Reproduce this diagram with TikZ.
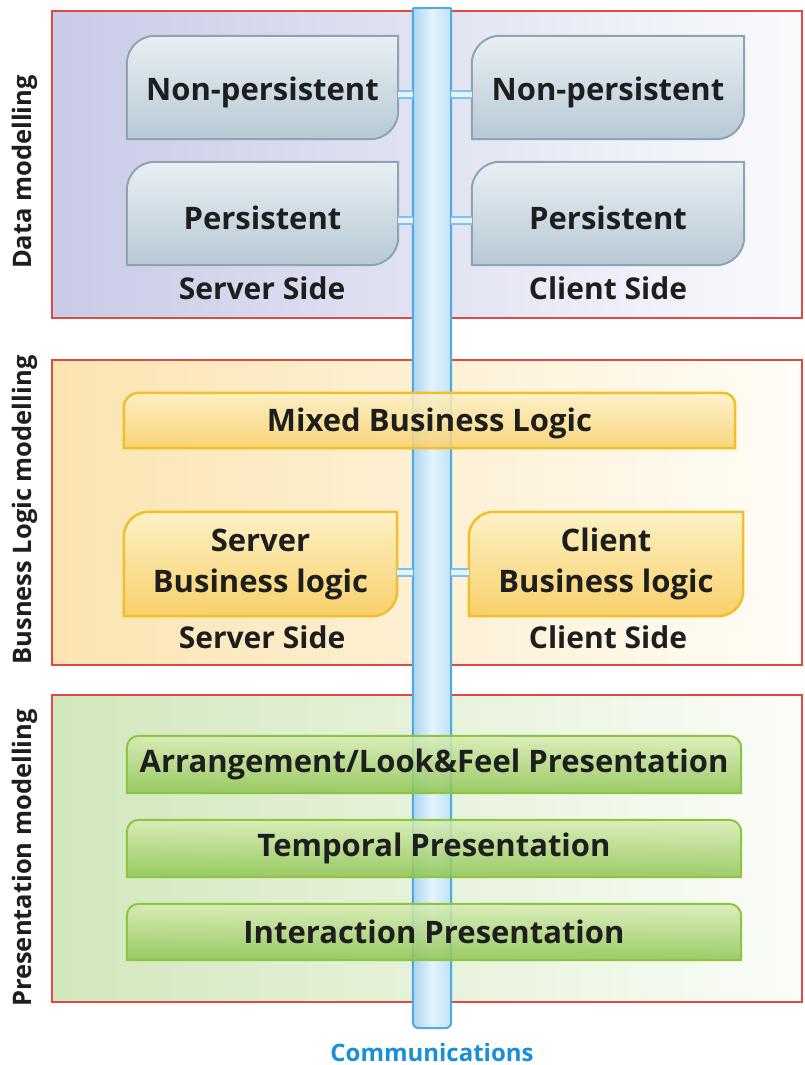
\documentclass[tikz,border=0pt]{standalone}
\usepackage{fontspec}
\setmainfont{Open Sans}
\usetikzlibrary{calc}
\definecolor{redb}{HTML}{E04A45}
\definecolor{dataL}{HTML}{C9CBE7}
\definecolor{dataR}{HTML}{FAFAFD}
\definecolor{busL}{HTML}{FBE4B0}
\definecolor{busR}{HTML}{FFFDF7}
\definecolor{preL}{HTML}{D2E7BC}
\definecolor{preR}{HTML}{FBFDF8}
\definecolor{dbTop}{HTML}{E9EFF3}
\definecolor{dbBot}{HTML}{B7C9D5}
\definecolor{dbLine}{HTML}{8FA3B1}
\definecolor{ybTop}{HTML}{FDF1C6}
\definecolor{ybBot}{HTML}{F8D06A}
\definecolor{ybLine}{HTML}{F2BF2A}
\definecolor{gbTop}{HTML}{D8ECB4}
\definecolor{gbBot}{HTML}{8DC450}
\definecolor{gbLine}{HTML}{8CC63F}
\definecolor{pipeL}{HTML}{A9D6F3}
\definecolor{pipeM}{HTML}{E3F3FC}
\definecolor{pipeR}{HTML}{BFE2F8}
\definecolor{pipeLine}{HTML}{4FAAE3}
\definecolor{commBlue}{HTML}{1A8ED6}
\definecolor{txt}{HTML}{1E1E1E}
\pgfdeclarelayer{sect}
\pgfdeclarelayer{pipel}
\pgfdeclarelayer{boxes}
\pgfsetlayers{sect,pipel,boxes,main}
\tikzset{
  sectbox/.style={draw=redb, line width=2pt},
  boxnode/.style={inner sep=0pt, draw=none, align=center, text=txt, font=\bfseries\fontsize{31}{41}\selectfont},
  boxtext/.style={inner sep=0pt, align=center, text=txt, font=\bfseries\fontsize{31}{41}\selectfont},
  sidelbl/.style={rotate=90, text=txt, font=\bfseries\fontsize{25.5}{30}\selectfont},
  sidetxt/.style={text=txt, font=\bfseries\fontsize{30}{34}\selectfont},
  dbstyle/.style={draw=dbLine, line width=2pt, top color=dbTop, bottom color=dbBot},
  ybstyle/.style={draw=ybLine, line width=2.5pt, top color=ybTop, bottom color=ybBot},
  gbstyle/.style={draw=gbLine, line width=2pt, top color=gbTop, bottom color=gbBot},
  conn/.style={draw=pipeL!55!pipeLine, line width=2pt, double=pipeM, double distance=5pt},
}
\newcommand\cornerbox[3]{% style, node, radius
  \path[#1] (#2.south west) -- ([yshift=-#3]#2.north west)
    arc[start angle=180, end angle=90, radius=#3] -- (#2.north east)
    -- ([yshift=#3]#2.south east) arc[start angle=0, end angle=-90, radius=#3] -- cycle;}
\newcommand\topbox[4]{% style, node, r left, r right
  \path[#1] (#2.south west) -- ([yshift=-#3]#2.north west)
    arc[start angle=180, end angle=90, radius=#3] -- ([xshift=-#4]#2.north east)
    arc[start angle=90, end angle=0, radius=#4] -- (#2.south east) -- cycle;}
\begin{document}
\begin{tikzpicture}[x=1pt, y=-1pt]
\useasboundingbox (0,0) rectangle (804,1065);
% sections
\begin{pgfonlayer}{sect}
  \path[left color=dataL, right color=dataR] (52,11) rectangle (802,318);
  \draw[sectbox] (52,11) rectangle (802,318);
  \path[left color=busL, right color=busR] (52,360) rectangle (802,665);
  \draw[sectbox] (52,360) rectangle (802,665);
  \path[left color=preL, right color=preR] (52,695) rectangle (802,1002);
  \draw[sectbox] (52,695) rectangle (802,1002);
\end{pgfonlayer}
\node[sidelbl] (lblData) at (25,172) {Data modelling};
\node[sidelbl] (lblBus) at (25,510) {Busness Logic modelling};
\node[sidelbl] (lblPre) at (25,858) {Presentation modelling};
% pipe
\node[inner sep=0pt, minimum width=38pt, minimum height=1020pt] (pipe) at (432,518) {};
\begin{pgfonlayer}{pipel}
  \path[left color=pipeL, right color=pipeR, middle color=pipeM, draw=pipeLine, line width=2pt, rounded corners=6pt]
    (pipe.north west) -- (pipe.south west) -- (pipe.south east) -- (pipe.north east);
  \draw[pipeLine, line width=2pt] (pipe.north west) -- (pipe.north east);
\end{pgfonlayer}
\node[text=commBlue, font=\bfseries\fontsize{24}{28}\selectfont] (comm) at (432,1052) {Communications};
% data boxes
\node[boxnode, minimum width=271pt, minimum height=103pt] (snp) at (262.5,87.5) {};
\node[boxnode, minimum width=271pt, minimum height=103pt] (sp) at (262.5,213.5) {};
\node[boxnode, minimum width=272pt, minimum height=103pt] (cnp) at (608,87.5) {};
\node[boxnode, minimum width=272pt, minimum height=103pt] (cp) at (608,213.5) {};
\node[boxtext] (snpT) at ([yshift=-5pt]snp.center) {Non-persistent};
\node[boxtext] (spT) at ([yshift=-4pt]sp.center) {Persistent};
\node[boxtext] (cnpT) at ([yshift=-5pt]cnp.center) {Non-persistent};
\node[boxtext] (cpT) at ([yshift=-4pt]cp.center) {Persistent};
\begin{pgfonlayer}{boxes}
  \cornerbox{dbstyle}{snp}{28pt}
  \cornerbox{dbstyle}{sp}{28pt}
  \cornerbox{dbstyle}{cnp}{28pt}
  \cornerbox{dbstyle}{cp}{28pt}
\end{pgfonlayer}
\node[sidetxt] (ss1) at (262,288) {Server Side};
\node[sidetxt] (cs1) at (608,288) {Client Side};
\draw[conn] ([yshift=-7pt]snp.east) -- ([yshift=-7pt]snp.east -| pipe.west);
\draw[conn] ([yshift=-7pt]sp.east) -- ([yshift=-7pt]sp.east -| pipe.west);
\draw[conn] ([yshift=-7pt]cnp.west) -- ([yshift=-7pt]cnp.west -| pipe.east);
\draw[conn] ([yshift=-7pt]cp.west) -- ([yshift=-7pt]cp.west -| pipe.east);
% business boxes
\node[boxnode, minimum width=611pt, minimum height=55pt] (mix) at (429.5,420.5) {};
\node[boxtext] (mixT) at ([yshift=-3pt]mix.center) {Mixed Business Logic};
\node[boxnode, minimum width=273pt, minimum height=104pt] (sbl) at (260.5,564) {Server\\Business logic};
\node[boxnode, minimum width=274pt, minimum height=104pt] (cbl) at (606,564) {Client\\Business logic};
\begin{pgfonlayer}{boxes}
  \topbox{ybstyle, fill opacity=0.85}{mix}{15pt}{12pt}
  \cornerbox{ybstyle}{sbl}{25pt}
  \cornerbox{ybstyle}{cbl}{25pt}
\end{pgfonlayer}
\node[sidetxt] (ss2) at (262,637) {Server Side};
\node[sidetxt] (cs2) at (608,637) {Client Side};
\draw[conn] ([yshift=-8pt]sbl.east) -- ([yshift=-8pt]sbl.east -| pipe.west);
\draw[conn] ([yshift=-8pt]cbl.west) -- ([yshift=-8pt]cbl.west -| pipe.east);
% presentation boxes
\node[boxnode, minimum width=614pt, minimum height=57pt] (arr) at (434,764.5) {Arrangement/Look\&Feel Presentation};
\node[boxnode, minimum width=614pt, minimum height=57pt] (tem) at (434,848.5) {Temporal Presentation};
\node[boxnode, minimum width=614pt, minimum height=56pt] (int) at (434,932) {Interaction Presentation};
\begin{pgfonlayer}{boxes}
  \topbox{gbstyle, fill opacity=0.85}{arr}{12pt}{12pt}
  \topbox{gbstyle, fill opacity=0.85}{tem}{12pt}{12pt}
  \topbox{gbstyle, fill opacity=0.85}{int}{12pt}{12pt}
\end{pgfonlayer}
\end{tikzpicture}
\end{document}
